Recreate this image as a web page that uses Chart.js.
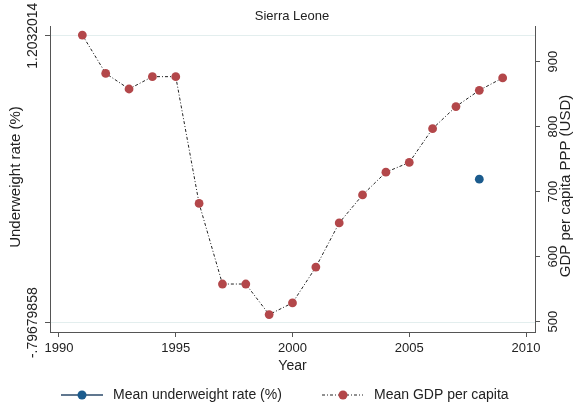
<!DOCTYPE html>
<html>
<head>
<meta charset="utf-8">
<script src="https://cdn.jsdelivr.net/npm/chart.js@4.4.1/dist/chart.umd.min.js"></script>
<style>
  html, body { margin: 0; padding: 0; background: #fff; }
  #wrap { width: 576px; height: 410px; }
</style>
</head>
<body>
<div id="wrap"><canvas id="chart" width="576" height="410"></canvas></div>
<script>
// ── Data ──
const years          = [1991, 1992, 1993, 1994, 1995, 1996, 1997, 1998, 1999, 2000,
                        2001, 2002, 2003, 2004, 2005, 2006, 2007, 2008, 2009];
const gdpPerCapita   = [941, 882, 858, 877, 877, 682, 558, 558, 511, 529,
                        584, 652, 695, 730, 745, 797, 831, 856, 875];
const underweightYears = [2008];
const underweightRate  = [0.2032014];

const yearTicks       = [1990, 1995, 2000, 2005, 2010];
const leftTicks       = [-0.79679858, 1.2032014];
const leftTickLabels  = ["-.79679858", "1.2032014"];
const rightTicks      = [500, 600, 700, 800, 900];

const FONT = '"Liberation Sans", Arial, sans-serif';
const TEXT = "#222";
const AXIS = "#555";
const RED  = "#b3474a";
const BLUE = "#1b5b8d";

// ── Extra drawing: title, rotated y labels, legend ──
const stataDecor = {
  id: "stataDecor",
  afterDraw(chart) {
    const { ctx, scales } = chart;
    ctx.save();
    ctx.fillStyle = TEXT;
    ctx.textAlign = "center";
    ctx.textBaseline = "middle";

    ctx.font = "13px " + FONT;
    ctx.fillText("Sierra Leone", 292, 16);

    const vtext = (txt, x, y) => {
      ctx.save();
      ctx.translate(x, y);
      ctx.rotate(-Math.PI / 2);
      ctx.fillText(txt, 0, 0);
      ctx.restore();
    };

    ctx.font = "13px " + FONT;
    rightTicks.forEach(v => vtext(String(v), 553, scales.y1.getPixelForValue(v)));
    ctx.font = "14px " + FONT;
    leftTicks.forEach((v, i) => vtext(leftTickLabels[i], 33, scales.y.getPixelForValue(v)));

    ctx.font = "15px " + FONT;
    vtext("Underweight rate (%)", 16, 177);
    vtext("GDP per capita PPP (USD)", 566, 186);

    // legend
    const ly = 395;
    ctx.lineWidth = 1.5;
    ctx.strokeStyle = "#2b4a6a";
    ctx.beginPath(); ctx.moveTo(61, ly); ctx.lineTo(103, ly); ctx.stroke();
    ctx.fillStyle = BLUE;
    ctx.beginPath(); ctx.arc(82, ly, 4.5, 0, Math.PI * 2); ctx.fill();

    ctx.lineWidth = 1;
    ctx.strokeStyle = "#222";
    ctx.setLineDash([3, 2, 1, 2]);
    ctx.beginPath(); ctx.moveTo(322, ly); ctx.lineTo(363, ly); ctx.stroke();
    ctx.setLineDash([]);
    ctx.fillStyle = RED;
    ctx.beginPath(); ctx.arc(343, ly, 4.5, 0, Math.PI * 2); ctx.fill();

    ctx.fillStyle = TEXT;
    ctx.textAlign = "left";
    ctx.font = "14px " + FONT;
    ctx.fillText("Mean underweight rate (%)", 113, ly);
    ctx.fillText("Mean GDP per capita", 374, ly);
    ctx.restore();
  }
};

const fixTicks = list => scale => { scale.ticks = list.map(v => ({ value: v })); };

new Chart(document.getElementById("chart"), {
  type: "scatter",
  data: {
    datasets: [
      {
        label: "Mean underweight rate (%)",
        data: underweightYears.map((x, i) => ({ x, y: underweightRate[i] })),
        yAxisID: "y",
        showLine: true,
        borderColor: BLUE,
        backgroundColor: BLUE,
        pointRadius: 4.4,
        pointBorderWidth: 0,
      },
      {
        label: "Mean GDP per capita",
        data: years.map((x, i) => ({ x, y: gdpPerCapita[i] })),
        yAxisID: "y1",
        showLine: true,
        borderColor: "#222",
        borderWidth: 1,
        borderDash: [3, 2, 1, 2],
        backgroundColor: RED,
        pointBackgroundColor: RED,
        pointBorderWidth: 0,
        pointRadius: 4.4,
        tension: 0,
      },
    ],
  },
  options: {
    responsive: false,
    animation: false,
    layout: { padding: { top: 26, left: 0, right: 0, bottom: 0 } },
    plugins: {
      legend: { display: false },
      title: { display: false },
      tooltip: { enabled: false },
    },
    scales: {
      x: {
        type: "linear",
        position: "bottom",
        min: 1989.615,
        max: 2010.385,
        afterBuildTicks: fixTicks(yearTicks),
        afterFit: s => { s.height = 78; },
        ticks: { callback: v => String(v), font: { family: FONT, size: 13 }, color: TEXT, padding: 4, maxRotation: 0, autoSkip: false },
        grid: { display: true, drawOnChartArea: false, drawTicks: true, tickLength: 5, tickColor: AXIS },
        border: { color: AXIS, width: 1 },
        title: { display: true, text: "Year", color: TEXT, font: { family: FONT, size: 14 }, padding: { top: 0, bottom: 35 } },
      },
      y: {
        position: "left",
        min: -0.8616,
        max: 1.2708,
        afterBuildTicks: fixTicks(leftTicks),
        afterFit: s => { s.width = 50; },
        ticks: { display: false },
        grid: { color: "#e3eeee", lineWidth: 1, drawTicks: true, tickLength: 5, tickColor: AXIS },
        border: { color: AXIS, width: 1 },
      },
      y1: {
        position: "right",
        min: 484.2,
        max: 954.9,
        afterBuildTicks: fixTicks(rightTicks),
        afterFit: s => { s.width = 41; },
        ticks: { display: false },
        grid: { drawOnChartArea: false, drawTicks: true, tickLength: 5, tickColor: AXIS },
        border: { color: AXIS, width: 1 },
      },
    },
  },
  plugins: [stataDecor],
});
</script>
</body>
</html>
